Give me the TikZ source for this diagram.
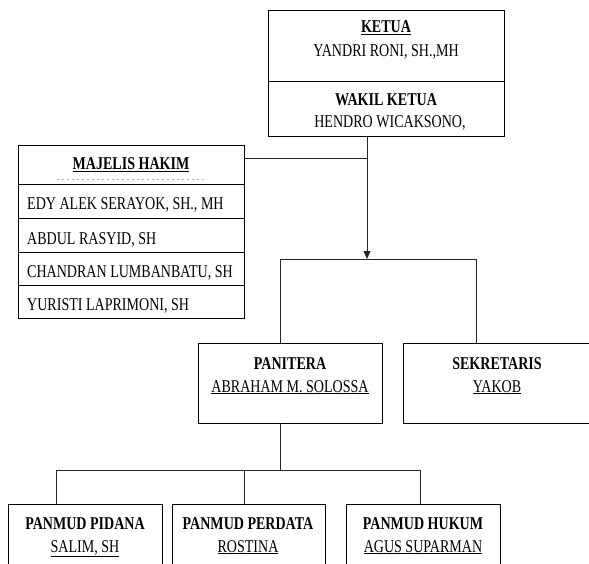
\documentclass[tikz,border=0pt]{standalone}
\usepackage{fontspec}
\setmainfont{Liberation Serif}[FakeStretch=0.78]
\usetikzlibrary{arrows.meta}
\tikzset{
  kotak/.style={draw, line width=1pt, inner sep=0pt, anchor=north west},
  tulis/.style={anchor=base, inner sep=0pt, font=\fontsize{18}{21}\selectfont},
  garis/.style={line width=0.8pt, black!85},
}

\begin{document}
\begin{tikzpicture}[x=1pt,y=-1pt]
\useasboundingbox (0,0) rectangle (589,564);
\clip (0,0) rectangle (589,564);
%ketua
\node[kotak, minimum width=236pt, minimum height=71pt] (ketua) at (268,10) {};
\node[kotak, minimum width=236pt, minimum height=55pt] (wakil) at (268,81) {};
\node[tulis] (tketua) at (386,33) {\textbf{\underline{KETUA}}};
\node[tulis] (nketua) at (386,57) {YANDRI RONI, SH.,MH};
\node[tulis] (twakil) at (386,106) {\textbf{WAKIL KETUA}};
\node[tulis] (nwakil) at (390,128) {HENDRO WICAKSONO,};
%majelis hakim
\node[kotak, minimum width=226pt, minimum height=39pt] (mjudul) at (18,145) {};
\node[kotak, minimum width=226pt, minimum height=34pt] (hakim1) at (18,184) {};
\node[kotak, minimum width=226pt, minimum height=34pt] (hakim2) at (18,218) {};
\node[kotak, minimum width=226pt, minimum height=33pt] (hakim3) at (18,252) {};
\node[kotak, minimum width=226pt, minimum height=33pt] (hakim4) at (18,285) {};
\node[tulis] (tmajelis) at (131,170) {\textbf{\underline{MAJELIS HAKIM}}};
\draw[gray!60, line width=0.5pt, dash pattern=on 2pt off 3pt] (57,179)--(207,179);
\node[tulis, anchor=base west] (nhakim1) at (27,210) {EDY ALEK SERAYOK, SH., MH};
\node[tulis, anchor=base west] (nhakim2) at (27,244) {ABDUL RASYID, SH};
\node[tulis, anchor=base west] (nhakim3) at (27,277) {CHANDRAN LUMBANBATU, SH};
\node[tulis, anchor=base west] (nhakim4) at (27,310) {YURISTI LAPRIMONI, SH};
%panitera og sekretaris
\node[kotak, minimum width=184pt, minimum height=80pt] (panitera) at (198,343) {};
\node[kotak, minimum width=188pt, minimum height=80pt] (sekretaris) at (403,343) {};
\node[tulis] (tpanitera) at (290,369) {\textbf{PANITERA}};
\node[tulis] (npanitera) at (290,392) {\underline{ABRAHAM M. SOLOSSA}};
\node[tulis] (tsekretaris) at (497,369) {\textbf{SEKRETARIS}};
\node[tulis] (nsekretaris) at (497,392) {\underline{YAKOB}};
%panmud
\node[kotak, minimum width=154pt, minimum height=80pt] (pidana) at (8,504) {};
\node[kotak, minimum width=153pt, minimum height=80pt] (perdata) at (172,504) {};
\node[kotak, minimum width=154pt, minimum height=80pt] (hukum) at (346,504) {};
\node[tulis] (tpidana) at (85,529) {\textbf{PANMUD PIDANA}};
\node[tulis] (npidana) at (85,552) {\underline{SALIM, SH}};
\node[tulis] (tperdata) at (248,529) {\textbf{PANMUD PERDATA}};
\node[tulis] (nperdata) at (248,552) {\underline{ROSTINA}};
\node[tulis] (thukum) at (423,529) {\textbf{PANMUD HUKUM}};
\node[tulis] (nhukum) at (423,552) {\underline{AGUS SUPARMAN}};
%linjer
\coordinate (cabang) at (367,259);
\coordinate (mh) at (244,158);
\coordinate (pn) at (280,343);
\coordinate (sk) at (476,343);
\coordinate (pb) at (280,423);
\coordinate (bagi) at (280,470);
\coordinate (m1) at (56,504);
\coordinate (m2) at (244,504);
\coordinate (m3) at (420,504);
\draw[garis,-{Triangle[length=8pt,width=7pt]}] (wakil.south -| cabang)--(cabang);
\draw[garis] (mh)--(mh -| cabang);
\draw[garis] (pn)--(pn |- cabang)--(sk |- cabang)--(sk);
\draw[garis] (pb)--(bagi);
\draw[garis] (m1)--(m1 |- bagi)--(m3 |- bagi)--(m3);
\draw[garis] (m2)--(m2 |- bagi);
\end{tikzpicture}
\end{document}
